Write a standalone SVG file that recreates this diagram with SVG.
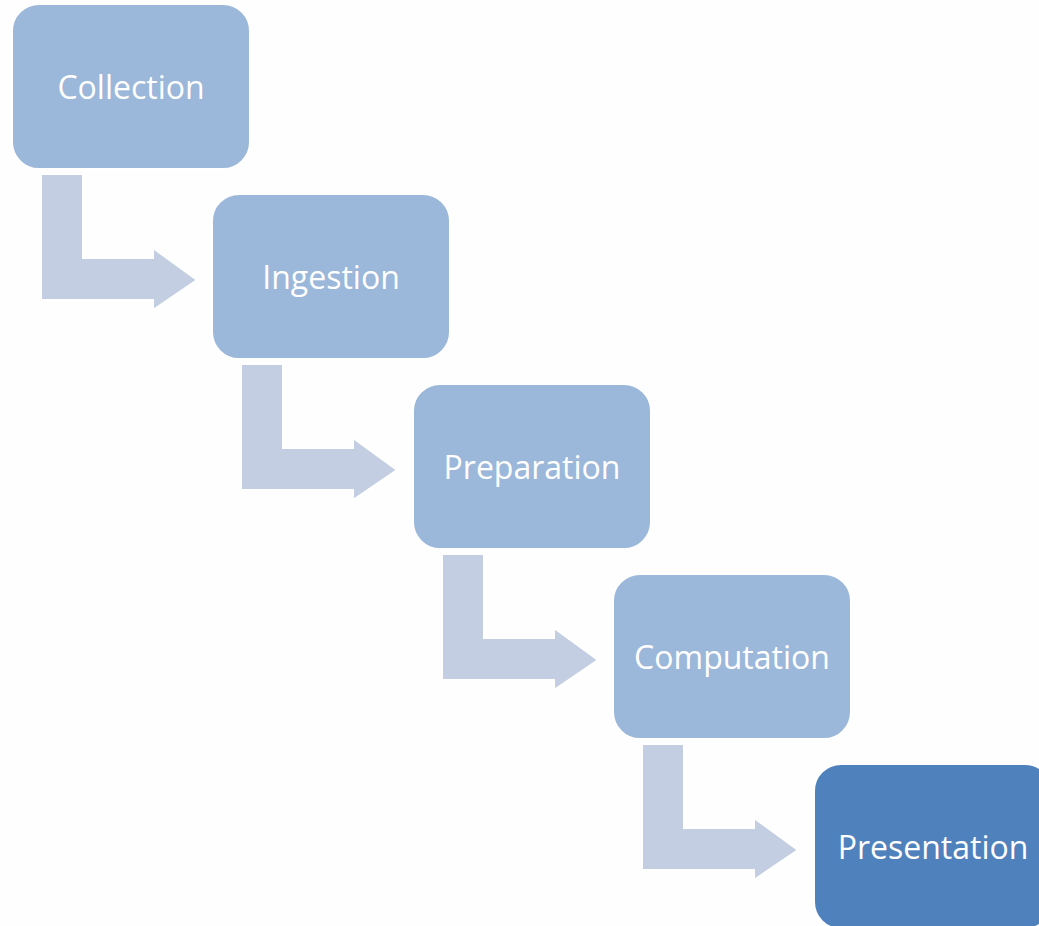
<svg xmlns="http://www.w3.org/2000/svg" width="1039" height="926" viewBox="0 0 1039 926">
<defs>
<style>
.box{fill:#9BB7DA;stroke:#FFFFFF;stroke-width:2}
.box.last{fill:#4F81BD}
.arr{fill:#C3CEE2;stroke:#FFFFFF;stroke-width:2}
.lbl{font-family:"Open Sans","Noto Sans",sans-serif;font-size:32px;fill:#FFFFFF;text-anchor:middle}
</style>
<path id="bent" d="M0,0 H42 V84 H112 V74 L156,106 L112,136 V126 H0 Z"/>
</defs>
<rect width="1039" height="926" fill="#FEFEFE"/>
<g id="connectors">
<use href="#bent" class="arr" x="41" y="174"/>
<use href="#bent" class="arr" x="241" y="364"/>
<use href="#bent" class="arr" x="442" y="554"/>
<use href="#bent" class="arr" x="642" y="744"/>
</g>
<g id="collection">
<rect class="box" x="12" y="4" width="238" height="165" rx="27"/>
<text class="lbl" x="131" y="99">Collection</text>
</g>
<g id="ingestion">
<rect class="box" x="212" y="194" width="238" height="165" rx="27"/>
<text class="lbl" x="331" y="289">Ingestion</text>
</g>
<g id="preparation">
<rect class="box" x="413" y="384" width="238" height="165" rx="27"/>
<text class="lbl" x="532" y="479">Preparation</text>
</g>
<g id="computation">
<rect class="box" x="613" y="574" width="238" height="165" rx="27"/>
<text class="lbl" x="732" y="669">Computation</text>
</g>
<g id="presentation">
<rect class="box last" x="814" y="764" width="238" height="165" rx="27"/>
<text class="lbl" x="933" y="859">Presentation</text>
</g>
</svg>
